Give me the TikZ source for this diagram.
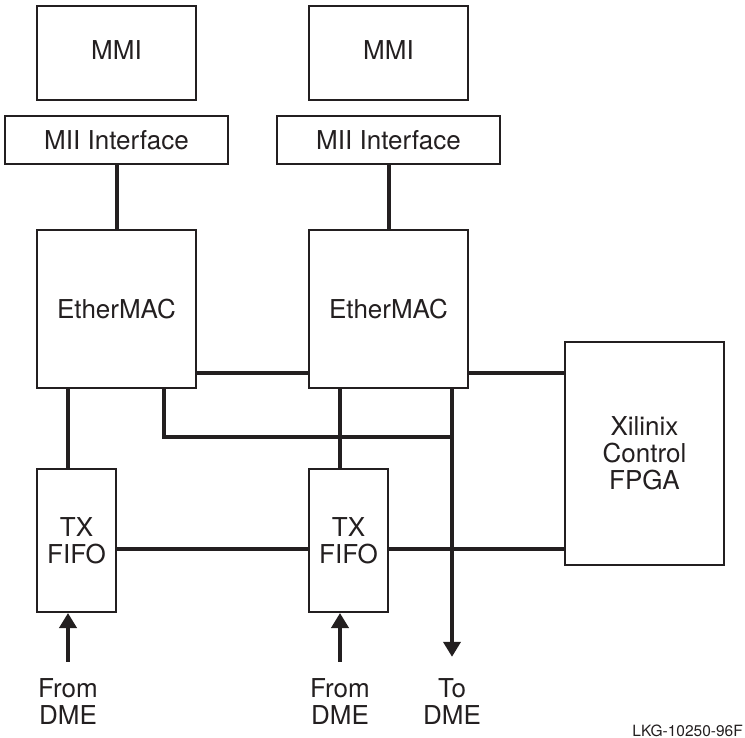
\documentclass[tikz,border=0pt]{standalone}
\usepackage{fontspec}
\setmainfont{TeX Gyre Heros}
\usetikzlibrary{positioning,arrows.meta}
\definecolor{ink}{HTML}{231F20}

\begin{document}
\begin{tikzpicture}[
  x=1pt, y=-1pt,
  every node/.style={
    font=\fontsize{26}{27}\selectfont,
    align=center,
    text=ink
  },
  block/.style={draw=ink, line width=2pt, inner sep=0pt},
  mmibox/.style={block, minimum width=159pt, minimum height=94pt},
  miibox/.style={block, minimum width=223pt, minimum height=48pt},
  macbox/.style={block, minimum width=159pt, minimum height=158pt},
  fifobox/.style={block, minimum width=79pt, minimum height=143pt},
  fpgabox/.style={block, minimum width=159pt, minimum height=223pt},
  bus/.style={draw=ink, line width=4pt},
  arr/.style={bus, -{Triangle[length=15pt, width=17pt]}},
  dme/.style={inner sep=0pt}
]
\useasboundingbox (0,0) rectangle (745,738);

% Left channel
\node[mmibox] (mmiA) at (116.5,53) {\raisebox{5pt}{MMI}};
\node[miibox, below=14pt of mmiA] (miiA) {MII Interface};
\node[macbox, below=64pt of miiA] (macA) {EtherMAC};
\node[fifobox, below=79pt of macA.south west, anchor=north west] (fifoA) {TX\\FIFO};

% Right channel
\node[mmibox, right=111pt of mmiA] (mmiB) {\raisebox{5pt}{MMI}};
\node[miibox, below=14pt of mmiB] (miiB) {MII Interface};
\node[macbox, below=64pt of miiB] (macB) {EtherMAC};
\node[fifobox, below=79pt of macB.south west, anchor=north west] (fifoB) {TX\\FIFO};

% Control
\node[fpgabox] (fpga) at (644.5,453.5) {Xilinix\\Control\\FPGA};

% DME ends
\node[dme] (fromA) at (68,702) {From\\DME};
\node[dme] (fromB) at (340,702) {From\\DME};
\node[dme] (toB) at (452,702) {To\\DME};

\node[font=\fontsize{15.5}{16}\selectfont, anchor=base east, inner sep=0pt]
  (figid) at (743,736) {LKG-10250-96F};

% Busses
\coordinate (busB) at ([yshift=16pt]macB.south east);
\coordinate (fifoBus) at ([yshift=-8.5pt]fifoB.east);

\draw[bus] (miiA) -- (macA);
\draw[bus] (miiB) -- (macB);
\draw[bus] ([yshift=16pt]macA.south east) -- ([yshift=16pt]macB.south west);
\draw[bus] (busB) -- (busB -| fpga.west);
\draw[bus] (fromA |- macA.south) -- (fromA |- fifoA.north);
\draw[bus] (fromB |- macB.south) -- (fromB |- fifoB.north);
\draw[bus] ([xshift=-33pt]macA.south east) -- ++(0,48) -| (toB |- macB.south);
\draw[bus] ([yshift=-8.5pt]fifoA.east) -- ([yshift=-8.5pt]fifoB.west);
\draw[bus] (fifoBus) -- (fifoBus -| fpga.west);

% Arrows
\draw[arr] ([yshift=17pt]fromA.north) -- (fromA |- fifoA.south);
\draw[arr] ([yshift=17pt]fromB.north) -- (fromB |- fifoB.south);
\draw[arr] (toB |- macB.south) -- ([yshift=22pt]toB.north);

\end{tikzpicture}
\end{document}
